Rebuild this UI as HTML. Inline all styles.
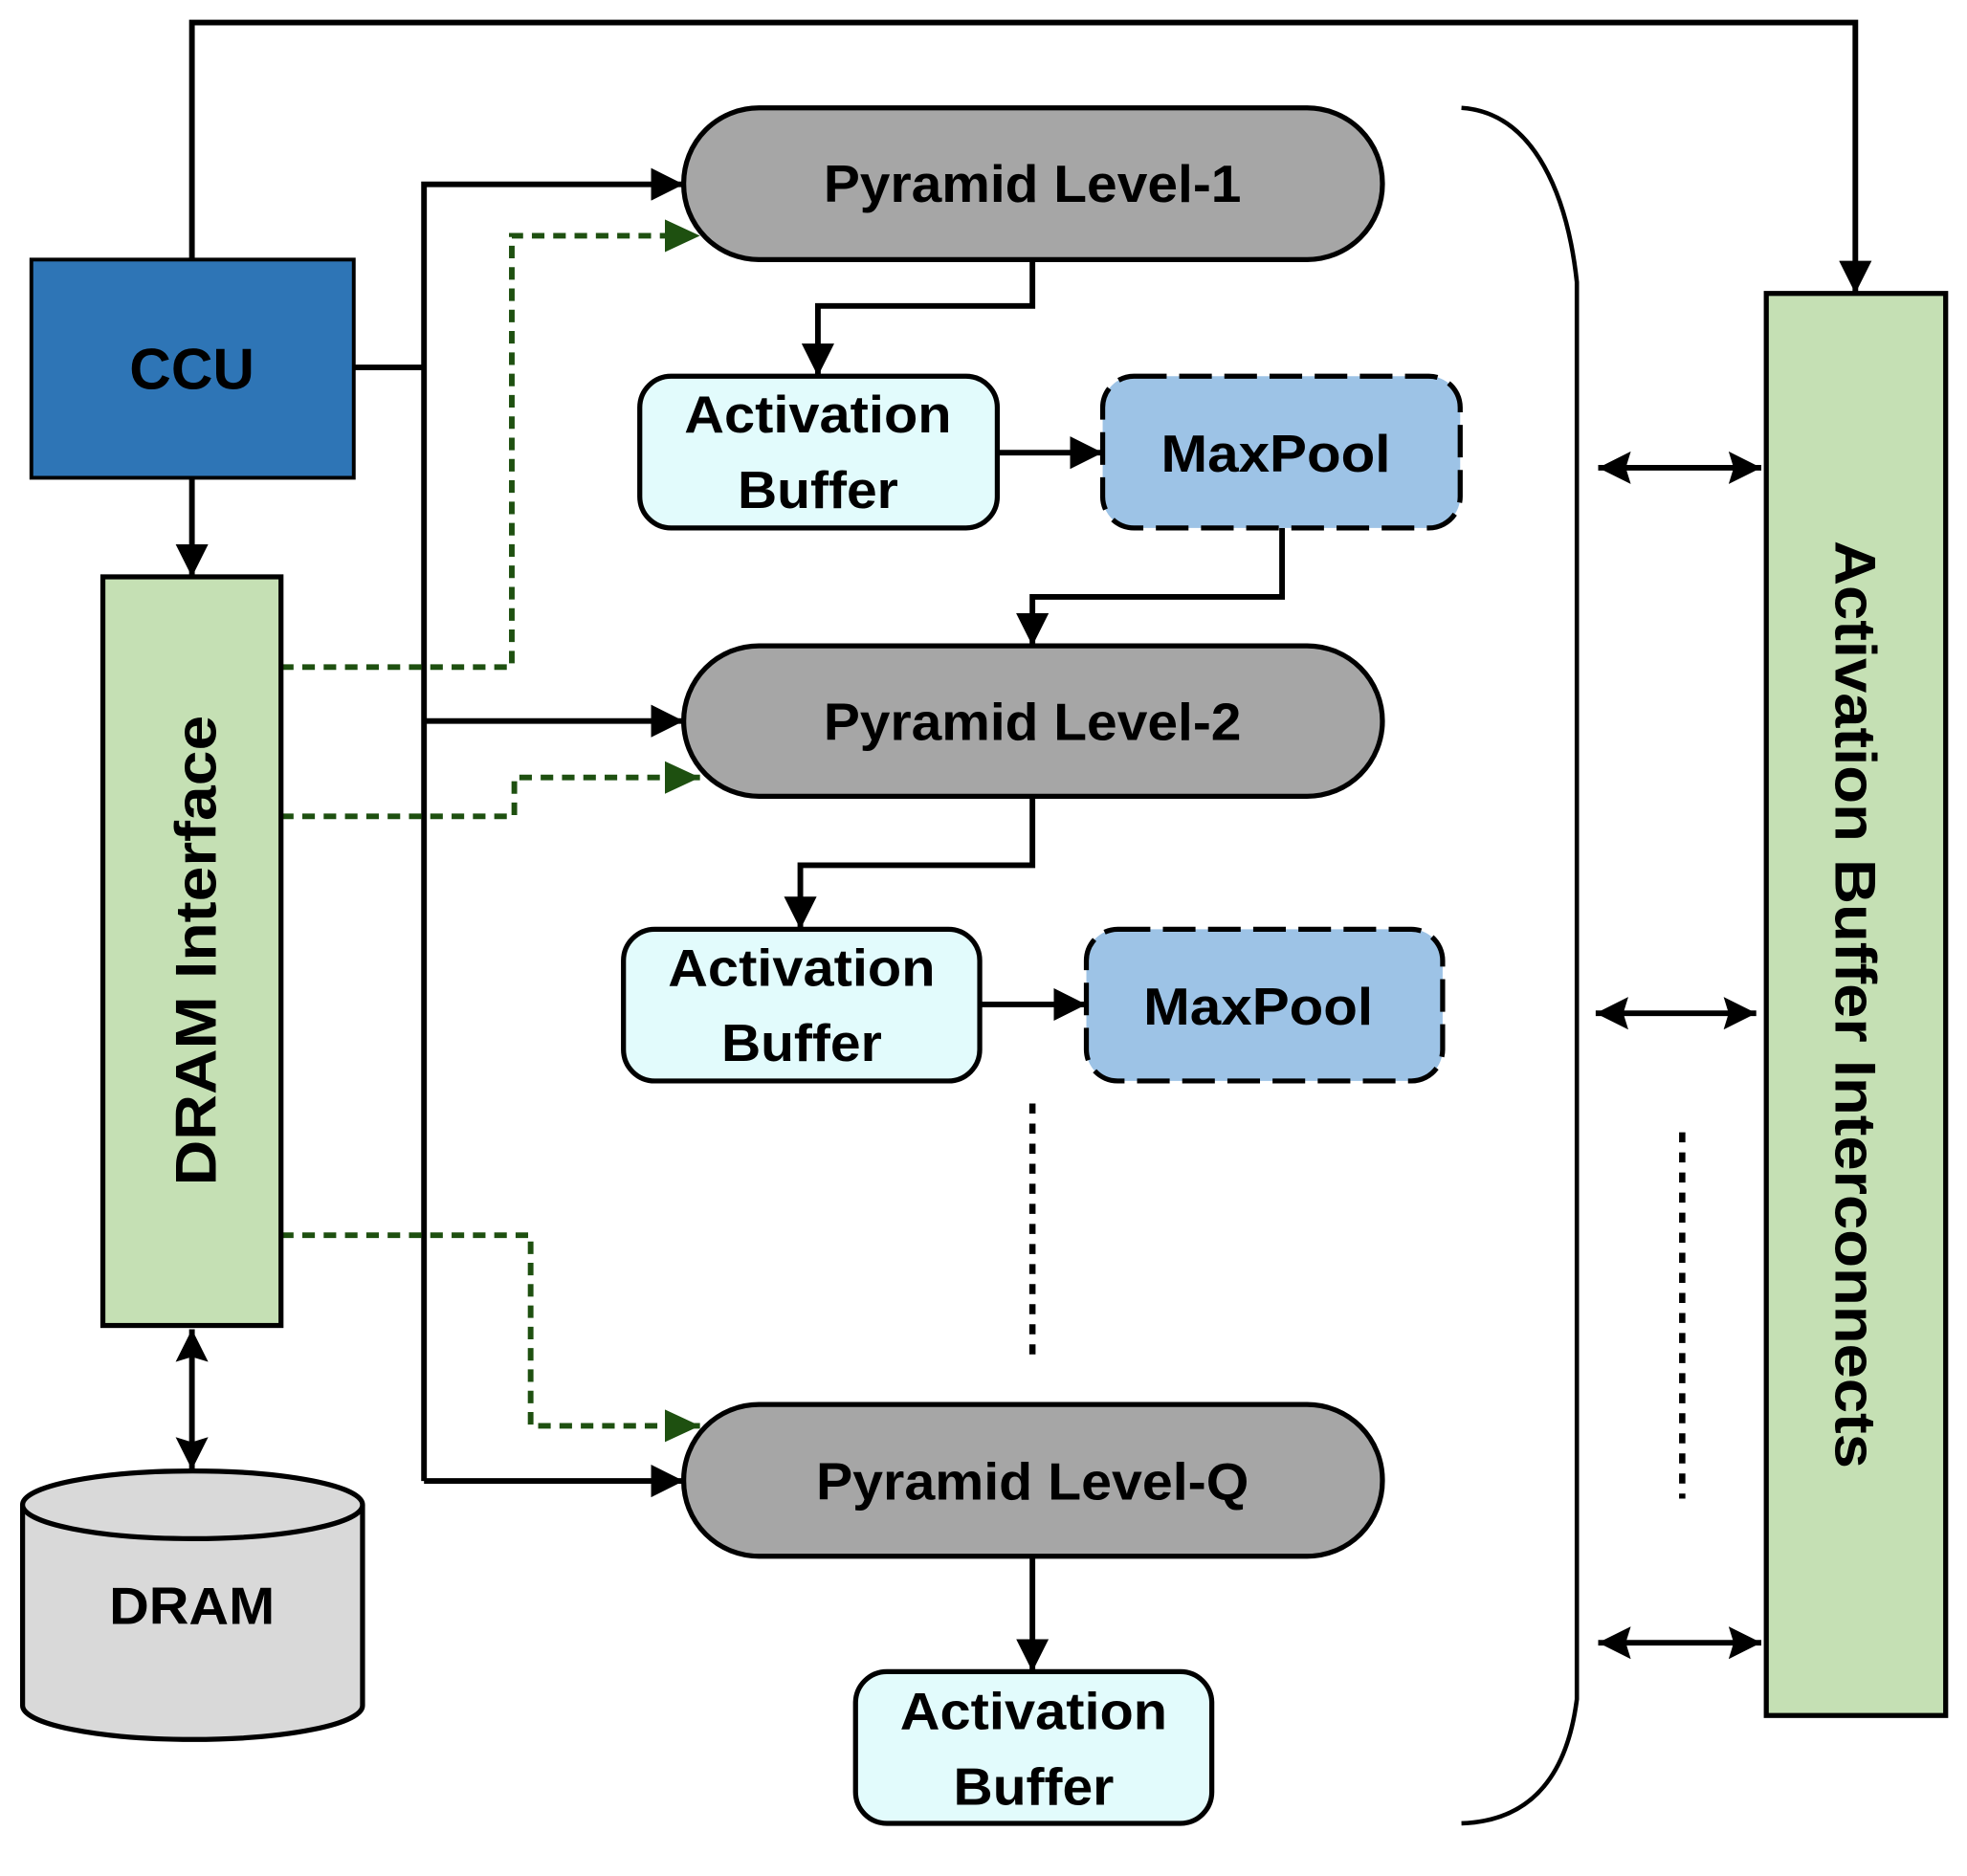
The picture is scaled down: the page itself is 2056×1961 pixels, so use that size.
<!DOCTYPE html>
<html><head><style>html,body{margin:0;padding:0;background:#fff}svg{display:block}</style></head><body>
<svg width="2056" height="1961" viewBox="0 0 1568 1496" preserveAspectRatio="none" xmlns="http://www.w3.org/2000/svg" font-family="Liberation Sans, sans-serif" font-weight="bold">
<defs>
<marker id="ab" markerWidth="26" markerHeight="26" refX="26" refY="13" orient="auto-start-reverse" markerUnits="userSpaceOnUse" viewBox="0 0 26 26"><path d="M0,0 L26,13 L0,26 L4,13 Z" fill="#000"/></marker>
<marker id="g" markerWidth="28" markerHeight="26" refX="28" refY="13" orient="auto" markerUnits="userSpaceOnUse" viewBox="0 0 28 26"><path d="M0,0 L28,13 L0,26 Z" fill="#1e5010"/></marker>
<marker id="k" markerWidth="26" markerHeight="26" refX="26" refY="13" orient="auto" markerUnits="userSpaceOnUse" viewBox="0 0 26 26"><path d="M0,0 L26,13 L0,26 Z" fill="#000"/></marker>
</defs>
<g fill="none" stroke="#000" stroke-width="4.5">
<path d="M153,207 V18 H1479 V234" marker-end="url(#k)"/>
<path d="M282,293 H338"/>
<path d="M338,1181 V147 H545" marker-end="url(#k)"/>
<path d="M338,575 H545" marker-end="url(#k)"/>
<path d="M338,1181 H545" marker-end="url(#k)"/>
<path d="M153,381 V460" marker-end="url(#k)"/>
<path d="M153,1060 V1172" marker-start="url(#ab)" marker-end="url(#ab)"/>
<path d="M823,207 V244 H652 V300" marker-end="url(#k)"/>
<path d="M795,361 H879" marker-end="url(#k)"/>
<path d="M1022,421 V476 H823 V515" marker-end="url(#k)"/>
<path d="M823,635 V690 H638 V741" marker-end="url(#k)"/>
<path d="M781,801 H866" marker-end="url(#k)"/>
<path d="M823,1241 V1333" marker-end="url(#k)"/>
<path d="M1274,373 H1404" marker-start="url(#ab)" marker-end="url(#ab)"/>
<path d="M1272,808 H1400" marker-start="url(#ab)" marker-end="url(#ab)"/>
<path d="M1274,1310 H1404" marker-start="url(#ab)" marker-end="url(#ab)"/>
<path d="M823,880 V1085" stroke-dasharray="8,8" stroke-width="5"/>
<path d="M1341,903 V1195" stroke-dasharray="8,8" stroke-width="5"/>
<path d="M1165,86 C1225,90 1250,160 1257,225 V1355 C1250,1410 1225,1452 1165,1454" stroke-width="3.5"/>
</g>
<g fill="none" stroke="#1e5010" stroke-width="4.5" stroke-dasharray="10,7">
<path d="M224,532 H408 V188 H558" marker-end="url(#g)"/>
<path d="M224,651 H410 V620 H558" marker-end="url(#g)"/>
<path d="M224,985 H423 V1137 H558" marker-end="url(#g)"/>
</g>
<rect x="25" y="207" width="257" height="174" fill="#2e75b6" stroke="#000" stroke-width="3"/>
<text x="153" y="310" font-size="46" text-anchor="middle">CCU</text>
<rect x="82" y="460" width="142" height="597" fill="#c5e0b4" stroke="#000" stroke-width="4"/>
<text transform="translate(172,758) rotate(-90)" font-size="46" text-anchor="middle" textLength="375" lengthAdjust="spacingAndGlyphs">DRAM Interface</text>
<rect x="1408" y="234" width="143" height="1134" fill="#c5e0b4" stroke="#000" stroke-width="4"/>
<text transform="translate(1463,801) rotate(90)" font-size="46" text-anchor="middle" textLength="740" lengthAdjust="spacingAndGlyphs">Activation Buffer Interconnects</text>
<path d="M18,1200 V1360 A135,27 0 0 0 289,1360 V1200" fill="#d9d9d9" stroke="#000" stroke-width="4"/>
<ellipse cx="153.5" cy="1200" rx="135.5" ry="27" fill="#d9d9d9" stroke="#000" stroke-width="4"/>
<text x="153" y="1295" font-size="42" text-anchor="middle" textLength="132" lengthAdjust="spacingAndGlyphs">DRAM</text>
<g stroke="#000" stroke-width="4">
<rect x="545" y="86" width="557" height="121" rx="60" fill="#a6a6a6"/>
<rect x="545" y="515" width="557" height="120" rx="60" fill="#a6a6a6"/>
<rect x="545" y="1120" width="557" height="121" rx="60" fill="#a6a6a6"/>
<rect x="510" y="300" width="285" height="121" rx="25" fill="#e2fbfc"/>
<rect x="497" y="741" width="284" height="121" rx="25" fill="#e2fbfc"/>
<rect x="682" y="1333" width="284" height="121" rx="25" fill="#e2fbfc"/>
<rect x="879" y="300" width="285" height="121" rx="25" fill="#9dc3e6" stroke-dasharray="26,10"/>
<rect x="866" y="741" width="284" height="121" rx="25" fill="#9dc3e6" stroke-dasharray="26,10"/>
</g>
<g font-size="42" text-anchor="middle" lengthAdjust="spacingAndGlyphs">
<text x="823" y="161" textLength="333" lengthAdjust="spacingAndGlyphs">Pyramid Level-1</text>
<text x="823" y="590" textLength="333" lengthAdjust="spacingAndGlyphs">Pyramid Level-2</text>
<text x="823" y="1196" textLength="345" lengthAdjust="spacingAndGlyphs">Pyramid Level-Q</text>
<text x="652" y="345" textLength="213" lengthAdjust="spacingAndGlyphs">Activation</text><text x="652" y="405" textLength="128" lengthAdjust="spacingAndGlyphs">Buffer</text>
<text x="639" y="786" textLength="213" lengthAdjust="spacingAndGlyphs">Activation</text><text x="639" y="846" textLength="128" lengthAdjust="spacingAndGlyphs">Buffer</text>
<text x="824" y="1379" textLength="213" lengthAdjust="spacingAndGlyphs">Activation</text><text x="824" y="1439" textLength="128" lengthAdjust="spacingAndGlyphs">Buffer</text>
<text x="1017" y="376" textLength="183" lengthAdjust="spacingAndGlyphs">MaxPool</text>
<text x="1003" y="817" textLength="183" lengthAdjust="spacingAndGlyphs">MaxPool</text>
</g>
</svg>
</body></html>
